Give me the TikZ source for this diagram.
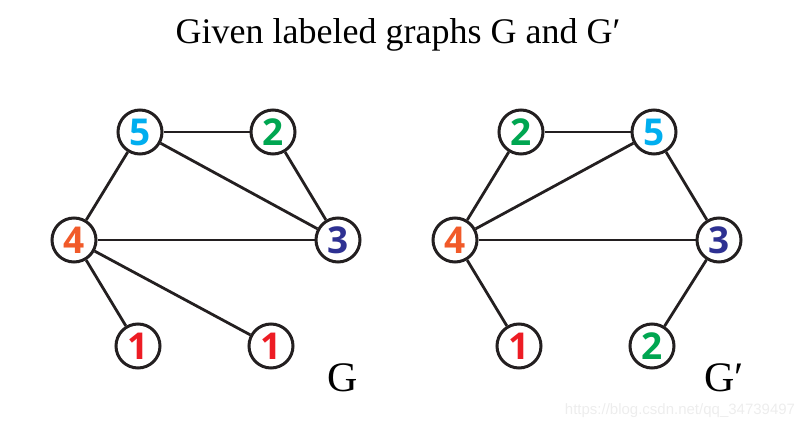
\documentclass[tikz,border=0pt]{standalone}
\usepackage{fontspec}
\setmainfont{Liberation Serif}
\newfontfamily\digfont{Open Sans}
\newfontfamily\wmfont{Liberation Sans}
\definecolor{cBlue}{RGB}{0,174,239}
\definecolor{cGreen}{RGB}{0,166,81}
\definecolor{cOrange}{RGB}{241,90,41}
\definecolor{cNavy}{RGB}{46,49,146}
\definecolor{cRed}{RGB}{237,28,36}
\definecolor{edgecol}{RGB}{35,31,32}
\tikzset{
  vert/.style={circle, draw=edgecol, line width=3pt, fill=white, minimum size=44pt, inner sep=0pt,
    font=\digfont\bfseries\fontsize{37}{37}\selectfont},
  edge/.style={draw=edgecol, line width=2.8pt},
}
\begin{document}
\begin{tikzpicture}[x=1pt,y=-1pt]
\useasboundingbox (0,0) rectangle (812,430);
\node (title) at (398,35) {\fontsize{36}{36}\selectfont Given labeled graphs G and G′};
% graph G
\node[vert, text=cBlue] (a5) at (140,132) {5};
\node[vert, text=cGreen] (a2) at (273,132) {2};
\node[vert, text=cOrange] (a4) at (74,240) {4};
\node[vert, text=cNavy] (a3) at (338,240) {3};
\node[vert, text=cRed] (a1) at (138,346) {1};
\node[vert, text=cRed] (a1b) at (271,346) {1};
\draw[edge] (a5) -- (a2);
\draw[edge] (a5) -- (a4);
\draw[edge] (a5) -- (a3);
\draw[edge] (a2) -- (a3);
\draw[edge] (a4) -- (a3);
\draw[edge] (a4) -- (a1);
\draw[edge] (a4) -- (a1b);
\node (lg) at (343,378) {\fontsize{42}{42}\selectfont G};
% graph G'
\node[vert, text=cGreen] (b2) at (521,132) {2};
\node[vert, text=cBlue] (b5) at (654,132) {5};
\node[vert, text=cOrange] (b4) at (455,240) {4};
\node[vert, text=cNavy] (b3) at (719,240) {3};
\node[vert, text=cRed] (b1) at (519,346) {1};
\node[vert, text=cGreen] (b2b) at (652,346) {2};
\draw[edge] (b2) -- (b5);
\draw[edge] (b2) -- (b4);
\draw[edge] (b5) -- (b4);
\draw[edge] (b5) -- (b3);
\draw[edge] (b4) -- (b3);
\draw[edge] (b4) -- (b1);
\draw[edge] (b3) -- (b2b);
\node (lgp) at (724,378) {\fontsize{42}{42}\selectfont G′};
\node[text=black!7] (wm) at (680,411) {\wmfont\fontsize{15}{15}\selectfont https://blog.csdn.net/qq\_34739497};
\end{tikzpicture}
\end{document}
